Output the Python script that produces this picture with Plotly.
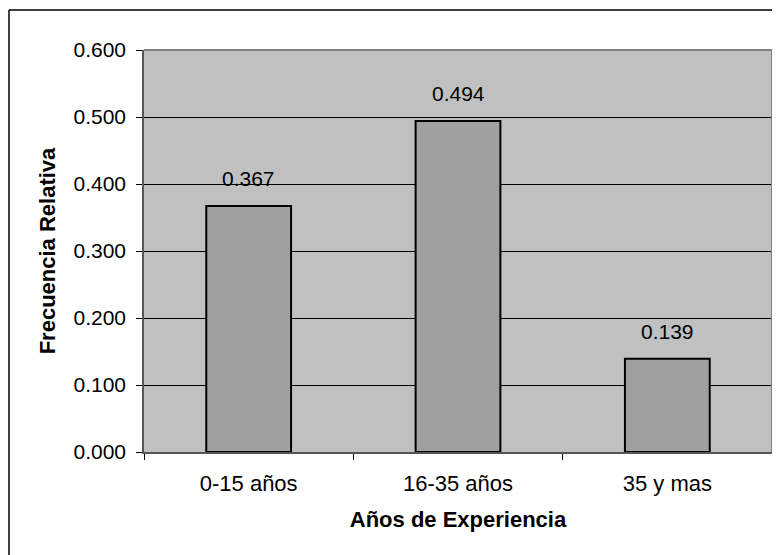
import plotly.graph_objects as go

categories = ["0-15 años", "16-35 años", "35 y mas"]
values = [0.367, 0.494, 0.139]
value_labels = ["0.367", "0.494", "0.139"]
y_ticks = [0.0, 0.1, 0.2, 0.3, 0.4, 0.5, 0.6]
y_tick_labels = ["0.000", "0.100", "0.200", "0.300", "0.400", "0.500", "0.600"]

# page body has an 8px margin; figure sized to fill the rest of the 780x555 view
W, H = 772, 547
L, R, T, B = 136, 8, 42, 103
pw = W - L - R
ph = H - T - B

font_family = "Liberation Sans, Arial, sans-serif"

fig = go.Figure()
fig.add_trace(go.Bar(
    x=categories, y=values,
    marker=dict(color="#a0a0a0", line=dict(color="#000000", width=2)),
    width=0.405,
    hoverinfo="x+y",
))

for c, v, t in zip(categories, values, value_labels):
    fig.add_annotation(x=c, y=v, text=t, showarrow=False, yanchor="bottom",
                       yshift=14, font=dict(family=font_family, size=21, color="#000000"))

# outer frame (left and top edges visible)
fx = (1 - L) / pw
fy = (T + ph - 2) / ph
fig.add_shape(type="line", xref="paper", yref="paper", x0=fx, x1=fx, y0=fy, y1=-1,
              line=dict(color="#000000", width=1.5))
fig.add_shape(type="line", xref="paper", yref="paper", x0=fx, x1=2, y0=fy, y1=fy,
              line=dict(color="#000000", width=1.5))
# plot area border top/right (gray)
fig.add_shape(type="line", xref="paper", yref="paper", x0=0, x1=1, y0=1, y1=1,
              line=dict(color="#808080", width=2), layer="above")
fig.add_shape(type="line", xref="paper", yref="paper", x0=1, x1=1, y0=0, y1=1,
              line=dict(color="#808080", width=2), layer="above")

fig.update_layout(
    width=W, height=H,
    margin=dict(l=L, r=R, t=T, b=B, pad=0),
    paper_bgcolor="#ffffff",
    plot_bgcolor="#c0c0c0",
    showlegend=False,
    font=dict(family=font_family, size=21, color="#000000"),
    xaxis=dict(
        title=dict(text="<b>Años de Experiencia</b>", font=dict(size=22), standoff=16),
        tickfont=dict(size=22),
        showline=True, linecolor="#555555", linewidth=1.5,
        ticks="outside", ticklen=6, tickcolor="#000000",
        tickson="boundaries",
        showgrid=False,
        ticklabelstandoff=11,
    ),
    yaxis=dict(
        title=dict(text="<b>Frecuencia Relativa</b>", font=dict(size=22), standoff=12),
        range=[0, 0.6],
        tickvals=y_ticks, ticktext=y_tick_labels,
        tickfont=dict(size=21),
        showline=True, linecolor="#555555", linewidth=1.5,
        ticks="outside", ticklen=6, tickcolor="#000000",
        showgrid=True, gridcolor="#000000", gridwidth=1,
        zeroline=False,
        ticklabelstandoff=6,
    ),
)

fig.write_html("out.html")
